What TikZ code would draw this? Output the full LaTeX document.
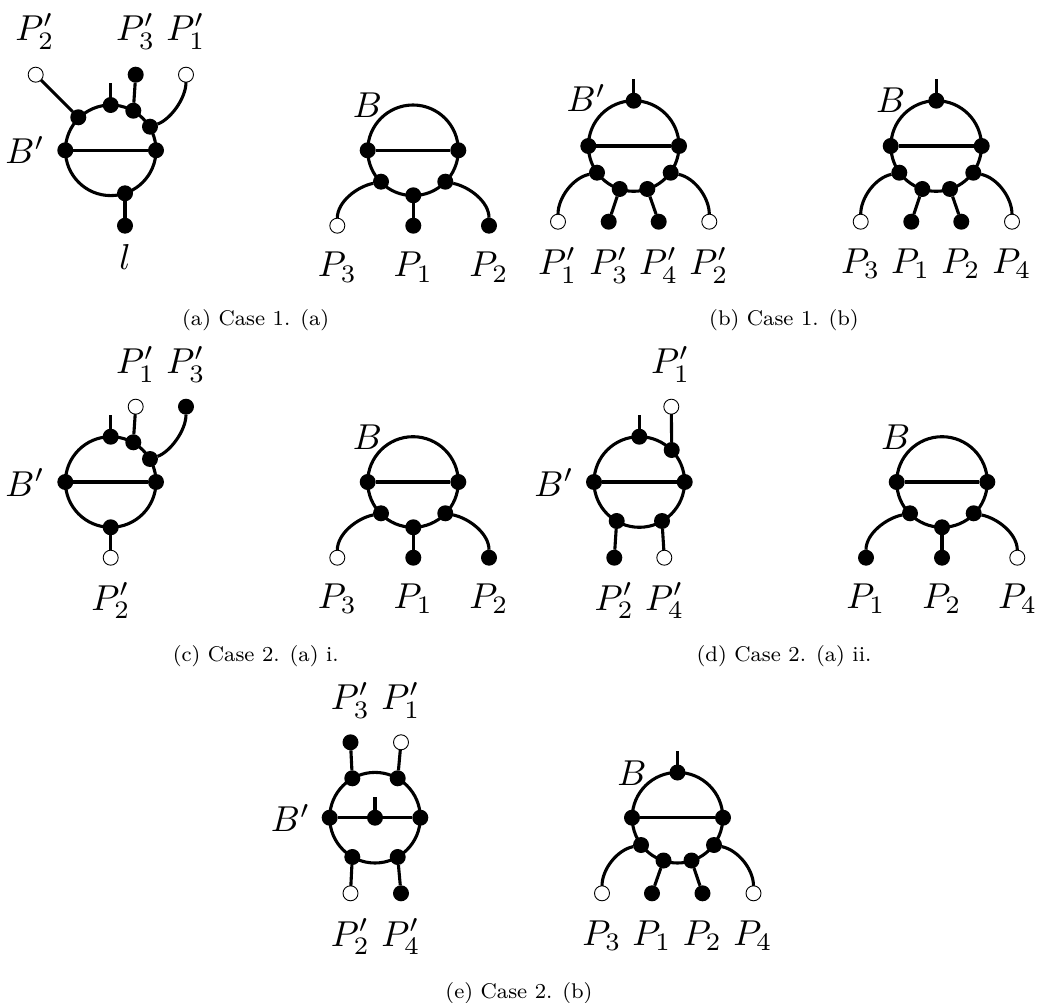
\documentclass[tikz,border=0pt]{standalone}
\tikzset{
  every node/.style={inner sep=0pt,outer sep=0pt},
  edge line/.style={line width=3.1pt,line cap=butt},
  ringnode/.style={circle,draw,line width=3.1pt,minimum size=90.6pt},
  fv/.style={circle,fill=black,minimum size=16pt},
  ov/.style={circle,draw=black,fill=white,line width=0.9pt,minimum size=15pt},
  lab/.style={anchor=base,scale=3.6},
  captext/.style={anchor=base,scale=2.66,font=\fontsize{8}{10}\selectfont},
}
\begin{document}
\begin{tikzpicture}[x=1pt,y=-1pt]
\useasboundingbox (0,0) rectangle (1037,1003);
% ---------- (a) left
\node[ringnode] (aR) at (110.7,150.3) {};
\node[fv] (a1) at (65.3,150.3) {};
\node[fv] (a2) at (156,150.3) {};
\node[fv] (a3) at (78.3,117.3) {};
\node[fv] (a4) at (110.7,105) {};
\node[fv] (a5) at (133.3,110.7) {};
\node[fv] (a6) at (150,126.7) {};
\node[fv] (a7) at (125,193.3) {};
\node[ov] (aP2) at (35.7,74.7) {};
\node[fv] (aP3) at (135.7,74.7) {};
\node[ov] (aP1) at (186,74.7) {};
\node[fv] (al) at (125,225.7) {};
\coordinate (at) at (110.7,83);
\draw[edge line] (a1) -- (a2);
\draw[edge line] (a3) -- (aP2);
\draw[edge line] (a4.center) -- (at);
\draw[edge line] (a5) -- (aP3);
\draw[edge line] (a6) .. controls +(20,-7) and +(0,24) .. (aP1);
\draw[edge line] (a7) -- (al);
\node[lab] (aL1) at (35,40.7) {$P_2'$};
\node[lab] (aL2) at (135.7,40.7) {$P_3'$};
\node[lab] (aL3) at (186,40.7) {$P_1'$};
\node[lab] (aL4) at (25,164) {$B'$};
\node[lab] (aL5) at (125,270) {$l$};
% ---------- (a) right
\node[ringnode] (bR) at (413,150.3) {};
\node[fv] (b1) at (367.7,150.3) {};
\node[fv] (b2) at (458.3,150.3) {};
\node[fv] (b3) at (381,181.7) {};
\node[fv] (b4) at (413.3,195.3) {};
\node[fv] (b5) at (445.3,181.7) {};
\node[ov] (bP3) at (337.3,225.7) {};
\node[fv] (bP1) at (413.3,225.7) {};
\node[fv] (bP2) at (489,225.7) {};
\draw[edge line] (b1) -- (b2);
\draw[edge line] (b3) .. controls +(-24,5) and +(0,-24) .. (bP3);
\draw[edge line] (b4) -- (bP1);
\draw[edge line] (b5) .. controls +(24,5) and +(0,-24) .. (bP2);
\node[lab] (bL1) at (337.5,276.7) {$P_3$};
\node[lab] (bL2) at (413.3,276.7) {$P_1$};
\node[lab] (bL3) at (489,276.7) {$P_2$};
\node[lab] (bL4) at (367.5,117.3) {$B$};
\node[captext] (capa) at (255.7,325.7) {(a) Case 1. (a)};
% ---------- (b) left
\node[ringnode] (cR) at (633.7,146) {};
\node[fv] (c1) at (588.3,146) {};
\node[fv] (c2) at (679,146) {};
\node[fv] (c3) at (633.7,100.7) {};
\node[fv] (c4) at (597,172.7) {};
\node[fv] (c5) at (619.7,189) {};
\node[fv] (c6) at (647.3,189) {};
\node[fv] (c7) at (670.7,172.7) {};
\node[ov] (cP1) at (558,221.7) {};
\node[fv] (cP3) at (608.7,221.7) {};
\node[fv] (cP4) at (658.7,221.7) {};
\node[ov] (cP2) at (709.3,221.7) {};
\coordinate (ct) at (633.7,79);
\draw[edge line] (c1) -- (c2);
\draw[edge line] (c3.center) -- (ct);
\draw[edge line] (c4) .. controls +(-24,5) and +(0,-24) .. (cP1);
\draw[edge line] (c5) -- (cP3);
\draw[edge line] (c6) -- (cP4);
\draw[edge line] (c7) .. controls +(24,5) and +(0,-24) .. (cP2);
\node[lab] (cL1) at (557.7,275) {$P_1'$};
\node[lab] (cL2) at (609,275) {$P_3'$};
\node[lab] (cL3) at (658.7,275) {$P_4'$};
\node[lab] (cL4) at (709,275) {$P_2'$};
\node[lab] (cL5) at (586.3,111.7) {$B'$};
% ---------- (b) right
\node[ringnode] (dR) at (936.2,146) {};
\node[fv] (d1) at (890.7,146) {};
\node[fv] (d2) at (981.7,146) {};
\node[fv] (d3) at (936.3,100.7) {};
\node[fv] (d4) at (899.3,172.7) {};
\node[fv] (d5) at (922.3,189) {};
\node[fv] (d6) at (950,189) {};
\node[fv] (d7) at (973.3,172.7) {};
\node[ov] (dP3) at (860.7,221.7) {};
\node[fv] (dP1) at (911.3,221.7) {};
\node[fv] (dP2) at (961.3,221.7) {};
\node[ov] (dP4) at (1012,221.7) {};
\coordinate (dt) at (936.3,79);
\draw[edge line] (d1) -- (d2);
\draw[edge line] (d3.center) -- (dt);
\draw[edge line] (d4) .. controls +(-24,5) and +(0,-24) .. (dP3);
\draw[edge line] (d5) -- (dP1);
\draw[edge line] (d6) -- (dP2);
\draw[edge line] (d7) .. controls +(24,5) and +(0,-24) .. (dP4);
\node[lab] (dL1) at (860.7,273.3) {$P_3$};
\node[lab] (dL2) at (910.7,273.3) {$P_1$};
\node[lab] (dL3) at (961,273.3) {$P_2$};
\node[lab] (dL4) at (1012,273.3) {$P_4$};
\node[lab] (dL5) at (890.7,113) {$B$};
\node[captext] (capb) at (784,325.7) {(b) Case 1. (b)};
% ---------- (c) left
\node[ringnode] (eR) at (110.7,482) {};
\node[fv] (e1) at (65.3,482) {};
\node[fv] (e2) at (156,482) {};
\node[fv] (e3) at (110.7,436.7) {};
\node[fv] (e4) at (133.3,442.3) {};
\node[fv] (e5) at (150,459) {};
\node[fv] (e6) at (110.7,527.3) {};
\node[ov] (eP1) at (135.7,406.7) {};
\node[fv] (eP3) at (186,406.7) {};
\node[ov] (eP2) at (110.7,557.7) {};
\coordinate (et) at (110.7,415);
\draw[edge line] (e1) -- (e2);
\draw[edge line] (e3.center) -- (et);
\draw[edge line] (e4) -- (eP1);
\draw[edge line] (e5) .. controls +(20,-7) and +(0,24) .. (eP3);
\draw[edge line] (e6) -- (eP2);
\node[lab] (eL1) at (135.7,373.3) {$P_1'$};
\node[lab] (eL2) at (186,373.3) {$P_3'$};
\node[lab] (eL3) at (111,610) {$P_2'$};
\node[lab] (eL4) at (25,496) {$B'$};
% ---------- (c) right
\node[ringnode] (fR) at (413,482) {};
\node[fv] (f1) at (367.7,482) {};
\node[fv] (f2) at (458.3,482) {};
\node[fv] (f3) at (381,513.3) {};
\node[fv] (f4) at (413.3,527.3) {};
\node[fv] (f5) at (445.3,513.3) {};
\node[ov] (fP3) at (337.3,557.7) {};
\node[fv] (fP1) at (413.3,557.7) {};
\node[fv] (fP2) at (489,557.7) {};
\draw[edge line] (f1) -- (f2);
\draw[edge line] (f3) .. controls +(-24,5) and +(0,-24) .. (fP3);
\draw[edge line] (f4) -- (fP1);
\draw[edge line] (f5) .. controls +(24,5) and +(0,-24) .. (fP2);
\node[lab] (fL1) at (337.5,608.3) {$P_3$};
\node[lab] (fL2) at (413.3,608.3) {$P_1$};
\node[lab] (fL3) at (489,608.3) {$P_2$};
\node[lab] (fL4) at (367.5,449) {$B$};
\node[captext] (capc) at (255.7,661.7) {(c) Case 2. (a) i.};
% ---------- (d) left
\node[ringnode] (gR) at (639.3,482) {};
\node[fv] (g1) at (594,482) {};
\node[fv] (g2) at (684.7,482) {};
\node[fv] (g3) at (639.3,436.7) {};
\node[fv] (g4) at (671.7,450) {};
\node[fv] (g5) at (616.7,521) {};
\node[fv] (g6) at (662,521) {};
\node[ov] (gP1) at (671.3,406.7) {};
\node[fv] (gP2) at (614.3,557.7) {};
\node[ov] (gP4) at (664.3,557.7) {};
\coordinate (gt) at (639.3,415);
\draw[edge line] (g1) -- (g2);
\draw[edge line] (g3.center) -- (gt);
\draw[edge line] (g4) -- (gP1);
\draw[edge line] (g5) -- (gP2);
\draw[edge line] (g6) -- (gP4);
\node[lab] (gL1) at (670.7,373.3) {$P_1'$};
\node[lab] (gL2) at (614.3,610) {$P_2'$};
\node[lab] (gL3) at (664.7,610) {$P_4'$};
\node[lab] (gL4) at (554,496) {$B'$};
% ---------- (d) right
\node[ringnode] (hR) at (942,482) {};
\node[fv] (h1) at (896.7,482) {};
\node[fv] (h2) at (987.3,482) {};
\node[fv] (h3) at (910,513.3) {};
\node[fv] (h4) at (942,527.3) {};
\node[fv] (h5) at (973.7,513.3) {};
\node[fv] (hP1) at (866,557.7) {};
\node[fv] (hP2) at (942,557.7) {};
\node[ov] (hP4) at (1017.3,557.7) {};
\draw[edge line] (h1) -- (h2);
\draw[edge line] (h3) .. controls +(-24,5) and +(0,-24) .. (hP1);
\draw[edge line] (h4) -- (hP2);
\draw[edge line] (h5) .. controls +(24,5) and +(0,-24) .. (hP4);
\node[lab] (hL1) at (866,608.3) {$P_1$};
\node[lab] (hL2) at (942,608.3) {$P_2$};
\node[lab] (hL3) at (1017.7,608.3) {$P_4$};
\node[lab] (hL4) at (895.7,449) {$B$};
\node[captext] (capd) at (784,661.7) {(d) Case 2. (a) ii.};
% ---------- (e) left
\node[ringnode] (iR) at (375,817.7) {};
\node[fv] (i1) at (329.7,817.7) {};
\node[fv] (i2) at (420.3,817.7) {};
\node[fv] (i3) at (375,817.7) {};
\node[fv] (i4) at (352.3,778.3) {};
\node[fv] (i5) at (397.7,778.3) {};
\node[fv] (i6) at (352.3,857) {};
\node[fv] (i7) at (397.7,857) {};
\node[fv] (iP3) at (350.5,742.3) {};
\node[ov] (iP1) at (401,742.3) {};
\node[ov] (iP2) at (350.5,893.3) {};
\node[fv] (iP4) at (401,893.3) {};
\coordinate (it) at (375,796.7);
\draw[edge line] (i1) -- (i2);
\draw[edge line] (i3.center) -- (it);
\draw[edge line] (i4) -- (iP3);
\draw[edge line] (i5) -- (iP1);
\draw[edge line] (i6) -- (iP2);
\draw[edge line] (i7) -- (iP4);
\node[lab] (iL1) at (350.5,709.3) {$P_3'$};
\node[lab] (iL2) at (401,709.3) {$P_1'$};
\node[lab] (iL3) at (350.5,946) {$P_2'$};
\node[lab] (iL4) at (401,946) {$P_4'$};
\node[lab] (iL5) at (290.5,831.7) {$B'$};
% ---------- (e) right
\node[ringnode] (jR) at (677.5,817.7) {};
\node[fv] (j1) at (632,817.7) {};
\node[fv] (j2) at (723,817.7) {};
\node[fv] (j3) at (677.5,772.5) {};
\node[fv] (j4) at (641,845) {};
\node[fv] (j5) at (663.5,860.5) {};
\node[fv] (j6) at (691.5,860.5) {};
\node[fv] (j7) at (714,845) {};
\node[ov] (jP3) at (602,893.3) {};
\node[fv] (jP1) at (652,893.3) {};
\node[fv] (jP2) at (702.5,893.3) {};
\node[ov] (jP4) at (753.5,893.3) {};
\coordinate (jt) at (677.5,751);
\draw[edge line] (j1) -- (j2);
\draw[edge line] (j3.center) -- (jt);
\draw[edge line] (j4) .. controls +(-24,5) and +(0,-24) .. (jP3);
\draw[edge line] (j5) -- (jP1);
\draw[edge line] (j6) -- (jP2);
\draw[edge line] (j7) .. controls +(24,5) and +(0,-24) .. (jP4);
\node[lab] (jL1) at (602,945) {$P_3$};
\node[lab] (jL2) at (652,945) {$P_1$};
\node[lab] (jL3) at (702.5,945) {$P_2$};
\node[lab] (jL4) at (753,945) {$P_4$};
\node[lab] (jL5) at (632,785) {$B$};
\node[captext] (cape) at (519,998) {(e) Case 2. (b)};
\end{tikzpicture}
\end{document}
